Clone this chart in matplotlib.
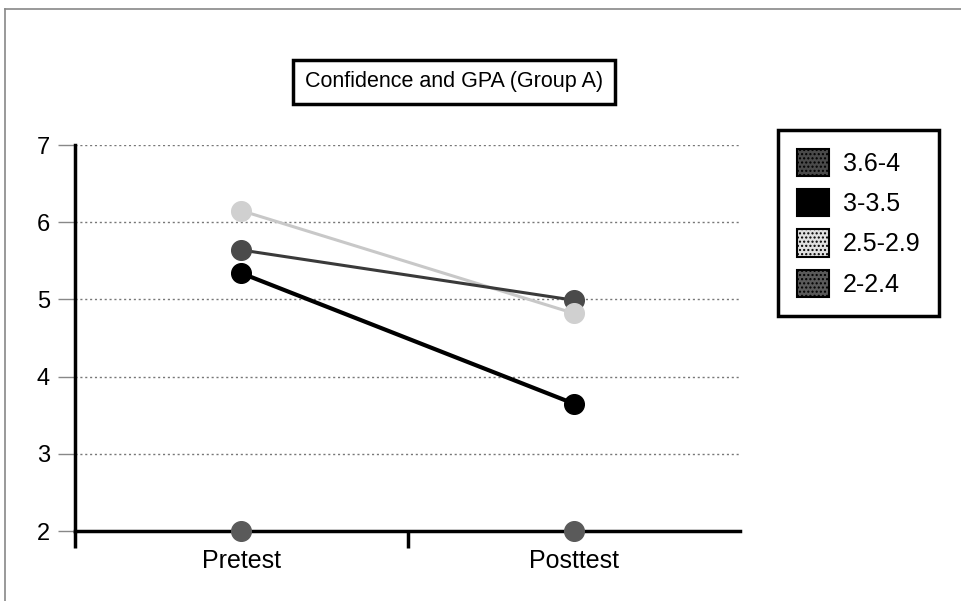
import matplotlib.pyplot as plt
from matplotlib.patches import Patch
from matplotlib.lines import Line2D

plt.rcParams['font.family'] = ['Liberation Sans', 'DejaVu Sans']

tests = ['Pretest', 'Posttest']
groups = ['3.6-4', '3-3.5', '2.5-2.9', '2-2.4']
conf_36_4 = [5.64, 4.99]
conf_3_35 = [5.34, 3.65]
conf_25_29 = [6.15, 4.82]
conf_2_24 = [2.0, 2.0]

series = [conf_36_4, conf_3_35, conf_25_29, conf_2_24]
face = ['#4a4a4a', '#000000', '#d0d0d0', '#5a5a5a']
linecol = ['#3a3a3a', '#000000', '#c8c8c8', '#5a5a5a']
lw = [2.2, 3.0, 2.2, 0]

fig = plt.figure(figsize=(9.61, 6.01), dpi=100)
ax = fig.add_axes([75/961, 1-531/601, 665/961, 386/601])

x = [0, 1]
for i, vals in enumerate(series):
    if lw[i] > 0:
        ax.plot(x, vals, color=linecol[i], lw=lw[i], zorder=3 - (i == 2))
    ax.scatter(x, vals, s=200, color=face[i], edgecolor=face[i],
               zorder=4, clip_on=False)

ax.set_xlim(-0.5, 1.5)
ax.set_ylim(2, 7)
ax.set_yticks([2, 3, 4, 5, 6, 7])
ax.yaxis.grid(True, linestyle=(0, (1.5, 2)), color='#777777', lw=1)
ax.set_axisbelow(True)
ax.tick_params(axis='y', direction='out', length=12, width=1, color='#888888',
               labelsize=17, pad=6)

ax.set_xticks([-0.5, 0.5])
ax.set_xticklabels([])
ax.tick_params(axis='x', which='major', direction='out', length=12, width=2.5)
ax.set_xticks(x, minor=True)
ax.set_xticklabels(tests, minor=True)
ax.tick_params(axis='x', which='minor', length=0, labelsize=18, pad=13)

for s in ['top', 'right']:
    ax.spines[s].set_visible(False)
for s in ['left', 'bottom']:
    ax.spines[s].set_linewidth(2.5)

fig.text(454/961, 1-82/601, 'Confidence and GPA (Group A)', ha='center',
         va='center', fontsize=15.5,
         bbox=dict(boxstyle='square,pad=0.55', fc='white', ec='black', lw=2.5))

handles = [Patch(facecolor=face[i], edgecolor='black', hatch='....' if i != 1 else None,
                 lw=1.5) for i in range(4)]
handles[2] = Patch(facecolor='#e0e0e0', edgecolor='black', hatch='....', lw=1.5)
leg = fig.legend(handles, groups, loc='upper left',
                 bbox_to_anchor=(778/961, 1-130/601), borderaxespad=0,
                 fontsize=18, handlelength=1.3, handleheight=1.3,
                 labelspacing=0.52, handletextpad=0.55, borderpad=0.75,
                 fancybox=False, framealpha=1, edgecolor='black')
leg.get_frame().set_linewidth(2.5)

fig.add_artist(Line2D([5/961, 5/961], [0, 1-9/601], color='#888888', lw=1.2))
fig.add_artist(Line2D([5/961, 1], [1-9/601, 1-9/601], color='#888888', lw=1.2))

fig.savefig('out.png', dpi=100)
